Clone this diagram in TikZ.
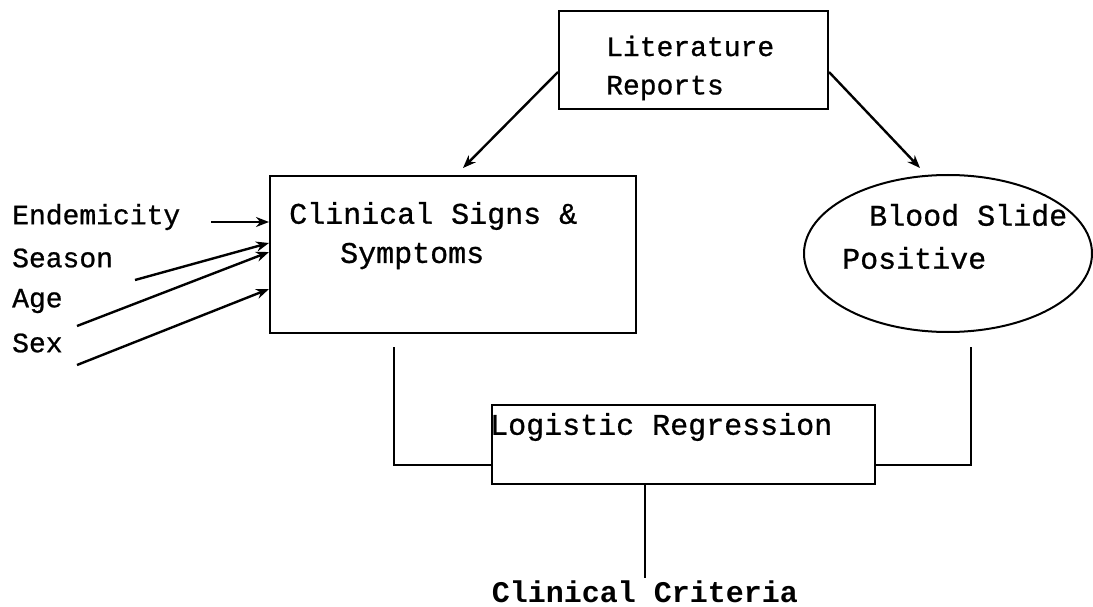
\documentclass[tikz,border=0pt]{standalone}
\usepackage{fontspec}
\setmonofont{Liberation Mono}
\newfontfamily\heavymono[FakeBold=0.8]{Liberation Mono}
\usetikzlibrary{arrows.meta,shapes.geometric,calc}
\begin{document}
\begin{tikzpicture}[x=1pt,y=-1pt,
  box/.style={draw, line width=2pt, inner sep=0pt, anchor=north west},
  lbl/.style={inner sep=0pt, anchor=west, font=\heavymono\fontsize{28}{30}\selectfont},
  lblb/.style={inner sep=0pt, anchor=west, font=\heavymono\fontsize{30}{32}\selectfont},
  arr/.style={line width=2.4pt, -{Stealth[length=13pt,width=10pt]}},
  con/.style={line width=2pt}]
\useasboundingbox (0,0) rectangle (1093,607);
% boxes
\node[box, minimum width=269pt, minimum height=98pt] (lit) at (558,10) {};
\node[box, minimum width=366pt, minimum height=157pt] (cs) at (269,175) {};
\node[draw, line width=2pt, ellipse, minimum width=288pt, minimum height=157pt, inner sep=0pt] (bs) at (948,253.5) {};
\node[box, minimum width=383pt, minimum height=79pt] (lr) at (491,404) {};
% texts
\node[lbl] (lit1) at (606,46) {Literature};
\node[lbl] (lit2) at (606,88) {Reports};
\node[lblb] (cs1) at (289,216) {Clinical Signs \&};
\node[lblb] (cs2) at (340,256) {Symptoms};
\node[lblb] (bs1) at (869,215) {Blood Slide};
\node[lblb] (bs2) at (842,258) {Positive};
\node[lblb] (lr1) at (490,427) {Logistic Regression};
\node[inner sep=0pt, font=\ttfamily\bfseries\fontsize{30}{32}\selectfont] (cc) at (645,592) {Clinical Criteria};
\node[lbl] (en) at (12,217) {Endemicity};
\node[lbl] (se) at (12,258) {Season};
\node[lbl] (ag) at (12,301) {Age};
\node[lbl] (sx) at (12,343) {Sex};
% arrows from literature
\coordinate (litL) at ($(lit.north west)+(0,62)$);
\coordinate (litR) at ($(lit.north east)+(0,62)$);
\coordinate (csTop) at (463,168);
\coordinate (bsTop) at (920,168);
\draw[arr] (litL) -- (csTop);
\draw[arr] (litR) -- (bsTop);
% left input arrows
\coordinate (t1) at (211,222);
\coordinate (t2) at (135,280);
\coordinate (t3) at (77,326);
\coordinate (t4) at (77,365);
\draw[arr] (t1) -- ($(cs.north west)+(0,47)$);
\draw[arr] (t2) -- ($(cs.north west)+(0,68)$);
\draw[arr] (t3) -- ($(cs.north west)+(0,77)$);
\draw[arr] (t4) -- ($(cs.north west)+(0,114)$);
% connectors to logistic regression
\coordinate (cl) at (394,347);
\coordinate (cr) at (971,347);
\coordinate (lj) at ($(lr.north west)+(0,61)$);
\coordinate (rj) at ($(lr.north east)+(0,61)$);
\draw[con] (cl) |- (lj);
\draw[con] (cr) |- (rj);
\coordinate (ccTop) at (645,578);
\draw[con] (lr.south west -| ccTop) -- (ccTop);
\end{tikzpicture}
\end{document}
